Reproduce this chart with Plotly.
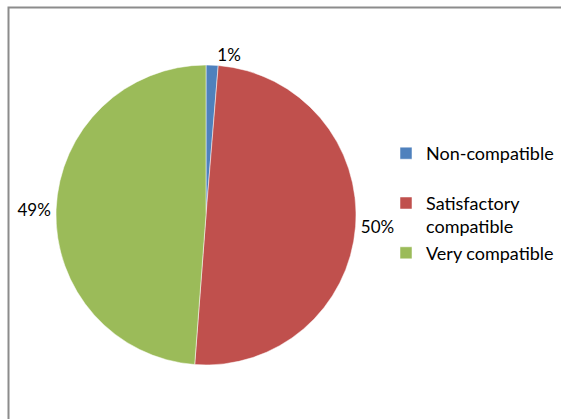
import plotly.graph_objects as go

labels = ["Non-compatible<br>&nbsp;", "Satisfactory<br>compatible", "Very compatible"]
values = [1.3, 49.9, 48.8]
colors = ["#4F81BD", "#C0504D", "#9BBB59"]

fig = go.Figure(go.Pie(
    labels=labels,
    values=values,
    sort=False,
    direction="clockwise",
    rotation=0,
    marker=dict(colors=colors, line=dict(color="white", width=0.5)),
    textposition="outside",
    texttemplate="%{percent:.0%}",
    textfont=dict(family="Lato", size=17, color="#000000"),
    domain=dict(x=[56/561, 356/561], y=[54/419, 354/419]),
    showlegend=True,
    hoverinfo="label+percent",
))

fig.update_layout(
    width=561, height=419,
    margin=dict(l=0, r=0, t=0, b=0),
    paper_bgcolor="white",
    plot_bgcolor="white",
    font=dict(family="Lato", size=18, color="#000000"),
    legend=dict(
        x=386/561, y=1-135/419, xanchor="left", yanchor="top",
        valign="top",
        font=dict(family="Lato", size=18, color="#000000"),
        bgcolor="rgba(0,0,0,0)",
    ),
    shapes=[dict(
        type="rect", xref="paper", yref="paper",
        x0=8.5/561, x1=1.05, y0=-0.05, y1=1-7.5/419,
        line=dict(color="#8C8C8C", width=2),
    )],
)

fig.write_html(
    "out.html",
    config={"displayModeBar": False},
    post_script="document.body.style.margin='0';document.body.style.overflow='hidden';",
)
